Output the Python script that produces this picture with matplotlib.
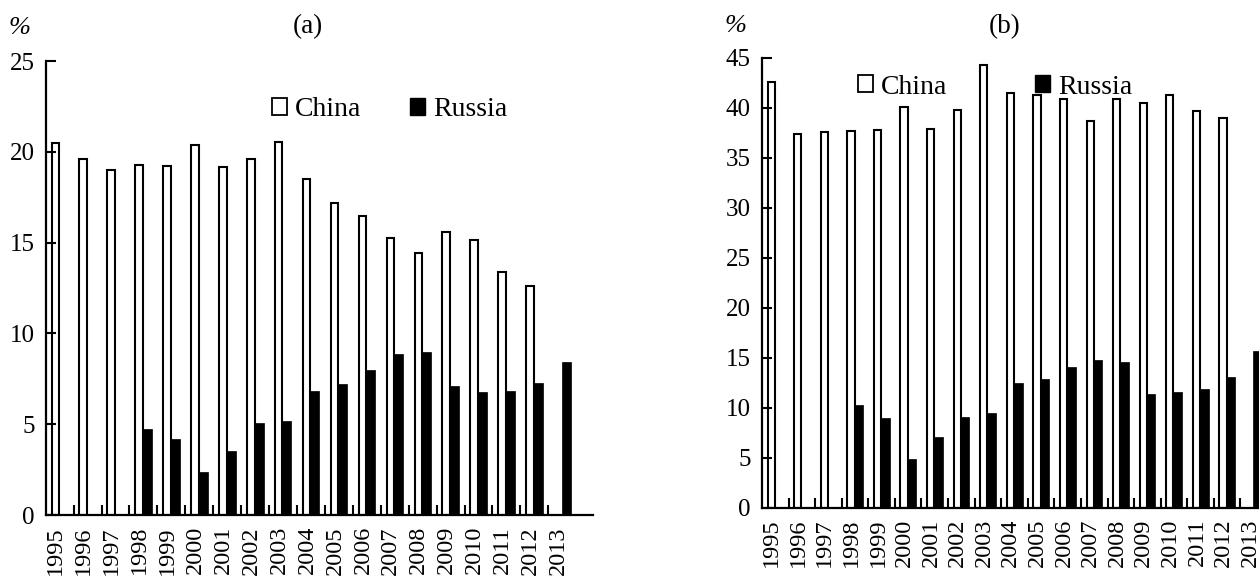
import numpy as np
import matplotlib
matplotlib.use('Agg')
import matplotlib.pyplot as plt
from matplotlib.patches import Patch

plt.rcParams['font.family'] = ['Liberation Serif', 'DejaVu Serif']

years = [str(y) for y in range(1995, 2014)]

# panel (a), % ; None = no bar
china_a = [20.5, 19.6, 19.0, 19.3, 19.2, 20.35, 19.15, 19.6, 20.55, 18.5,
           17.2, 16.45, 15.25, 14.4, 15.6, 15.15, 13.4, 12.6, None]
russia_a = [None, None, None, 4.75, 4.2, 2.35, 3.55, 5.05, 5.2, 6.85,
            7.2, 8.0, 8.85, 8.95, 7.1, 6.8, 6.85, 7.25, 8.45]

# panel (b), %
china_b = [42.6, 37.4, 37.6, 37.7, 37.8, 40.1, 37.9, 39.8, 44.3, 41.5,
           41.3, 40.9, 38.7, 40.9, 40.5, 41.3, 39.7, 39.0, None]
russia_b = [None, None, None, 10.3, 9.0, 4.9, 7.1, 9.1, 9.5, 12.5,
            12.9, 14.1, 14.8, 14.6, 11.4, 11.6, 11.9, 13.1, 15.7]

W, H = 1259, 577
fig = plt.figure(figsize=(W / 100, H / 100), dpi=100)


def draw_panel(rect, china, russia, ymax, title, title_xy, pct_xy, leg_xy,
               colspace):
    ax = fig.add_axes(rect)
    idx = np.arange(len(years))
    ci = [i for i, v in enumerate(china) if v is not None]
    ri = [i for i, v in enumerate(russia) if v is not None]
    ax.bar(idx[ci] + 0.21, [china[i] for i in ci], width=0.27, align='edge',
           facecolor='white', edgecolor='black', linewidth=1.5)
    ax.bar(idx[ri] + 0.48, [russia[i] for i in ri], width=0.32, align='edge',
           facecolor='black', edgecolor='black', linewidth=0.5)
    ax.set_xlim(0, 19.6)
    ax.set_ylim(0, ymax)
    for s in ['top', 'right']:
        ax.spines[s].set_visible(False)
    for s in ['left', 'bottom']:
        ax.spines[s].set_linewidth(1.6)
    # small inward ticks between years, year labels as minor ticks
    ax.set_xticks(np.arange(1, 19))
    ax.set_xticklabels([])
    ax.set_xticks(idx + 0.36, minor=True)
    ax.set_xticklabels(years, minor=True, rotation=90, fontsize=17.5)
    ax.tick_params(axis='x', which='major', direction='in', length=7, width=1.5)
    ax.tick_params(axis='x', which='minor', length=0, pad=8)
    ax.set_yticks(np.arange(0, ymax + 1, 5))
    ax.tick_params(axis='y', direction='in', length=7, width=1.5,
                   labelsize=18, pad=8)
    fig.text(title_xy[0] / W, 1 - title_xy[1] / H, title, fontsize=19.5,
             ha='center', va='center')
    fig.text(pct_xy[0] / W, 1 - pct_xy[1] / H, '%', fontsize=19,
             style='italic', ha='center', va='center')
    handles = [Patch(facecolor='white', edgecolor='black', linewidth=1.3),
               Patch(facecolor='black', edgecolor='black')]
    fig.legend(handles, ['China', 'Russia'], loc='center left',
               bbox_to_anchor=(leg_xy[0] / W, 1 - leg_xy[1] / H),
               ncol=2, frameon=False, fontsize=20, handlelength=0.55,
               handleheight=0.55, handletextpad=0.28, columnspacing=colspace,
               borderpad=0, borderaxespad=0)
    return ax


# pixel layout of the reference
draw_panel([45.7 / W, (H - 515) / H, 547.3 / W, 454 / H],
           china_a, russia_a, 25, '(a)', (308, 27), (20, 28), (272, 110), 1.75)
draw_panel([762 / W, (H - 507.7) / H, 521 / W, 450 / H],
           china_b, russia_b, 45, '(b)', (1005, 27), (735, 26), (858, 87), 3.15)

fig.savefig('out.png', dpi=100)
